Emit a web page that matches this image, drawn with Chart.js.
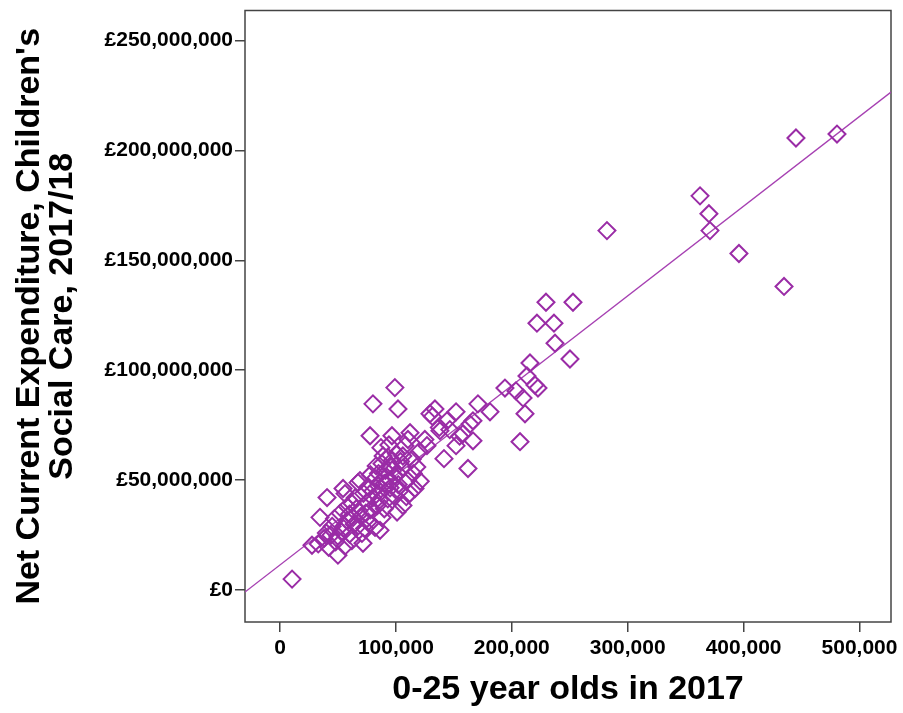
<!DOCTYPE html>
<html>
<head>
<meta charset="utf-8">
<script src="https://cdn.jsdelivr.net/npm/chart.js@4.4.1/dist/chart.umd.min.js"></script>
<style>
  body { margin: 0; background: #fff; }
  #wrap { width: 903px; height: 713px; }
</style>
</head>
<body>
<div id="wrap"><canvas id="chart" width="903" height="713"></canvas></div>
<script>
// 0-25 year olds (thousands) and children's social care spend (£ millions), one per authority
const populationK = [
  10.4, 480.6, 445.2, 362.4, 370.1, 371.0, 282.1, 396.0, 434.9,
  229.5, 252.8, 221.7, 236.4, 237.3, 250.2, 215.7, 213.1, 220.0, 222.6, 194.1, 203.6, 209.7, 211.4, 207.1,
  170.8, 181.2, 166.5, 163.9, 151.9, 144.1, 157.9, 166.5, 151.9, 141.5, 162.2, 138.0, 129.4, 133.7, 131.5, 137.5, 146.5, 155.0, 125.0, 120.0,
  99.1, 80.2, 101.8, 77.7, 96.6, 112.2, 110.4, 87.1, 107.8, 126.8,
  100.5, 93.0, 104.0, 88.0, 96.0, 91.0, 85.0, 99.0, 106.0, 114.0,
  118.0, 101.8, 82.0, 69.0, 67.3, 76.0, 90.0, 95.0, 110.0, 116.5,
  121.0, 87.0, 80.0, 72.0, 93.0, 106.1, 109.0, 98.0, 84.0, 78.0,
  90.0, 101.0, 75.0, 62.0, 66.0, 56.1, 54.4, 40.6, 60.0, 70.0,
  58.0, 52.0, 47.0, 64.0, 82.0, 86.3, 73.0, 55.0, 45.0, 34.5,
  40.0, 50.0, 60.0, 70.7, 71.6, 62.0, 48.0, 38.0, 33.0, 27.6,
  42.0, 50.0, 56.0, 53.0, 44.0, 67.0, 88.0, 95.0, 83.0, 89.0,
  94.0, 85.0, 78.0, 102.0, 112.0, 106.0, 74.0, 65.0,
  92.0, 97.0, 86.0, 76.0, 58.0, 63.0, 68.0, 80.0, 103.0, 115.0
];
const spendingM = [
  5.0, 207.4, 205.6, 179.3, 171.2, 163.5, 163.5, 153.1, 138.1,
  130.9, 130.9, 121.4, 121.4, 112.3, 105.1, 103.3, 97.4, 93.3, 91.9, 91.9, 90.6, 87.4, 80.2, 67.5,
  84.7, 81.1, 77.0, 75.5, 81.1, 77.0, 71.1, 67.9, 65.7, 59.8, 55.3, 72.5, 80.2, 82.4, 79.0, 74.0, 73.0, 70.0, 68.5, 63.0,
  92.1, 84.7, 82.4, 70.2, 70.2, 71.6, 68.5, 64.8, 65.7, 65.7,
  62.0, 60.5, 58.5, 57.5, 56.0, 54.5, 53.0, 52.0, 55.5, 59.5,
  56.0, 53.0, 50.7, 49.8, 48.9, 47.0, 48.5, 46.5, 50.0, 46.2,
  49.5, 44.5, 42.0, 44.0, 41.5, 38.5, 42.5, 43.0, 38.5, 36.5,
  37.0, 35.5, 40.0, 39.5, 37.0, 43.9, 46.2, 42.1, 34.5, 33.5,
  31.5, 35.0, 32.5, 30.0, 28.5, 27.2, 28.0, 28.0, 29.0, 33.1,
  26.0, 24.5, 25.5, 25.8, 21.3, 22.5, 22.0, 23.5, 21.0, 20.4,
  19.5, 15.9, 20.0, 26.5, 25.0, 29.0, 33.0, 50.0, 56.5, 61.0,
  66.0, 47.5, 52.5, 48.0, 44.0, 61.0, 35.0, 42.0,
  51.5, 59.0, 41.0, 31.0, 38.0, 33.0, 36.0, 45.0, 45.0, 53.0
];

// fit line ends, read at the plot edges
const fitPopK = [-30.2, 527.2];
const fitSpendM = [-0.9, 226.5];

const xTicks = [0, 100000, 200000, 300000, 400000, 500000];
const yTicks = [0, 50000000, 100000000, 150000000, 200000000, 250000000];

const purple = '#9a2ca6';
const axisColor = '#444';

const points = populationK.map((p, i) => ({ x: p * 1000, y: spendingM[i] * 1000000 }));
const fitLine = fitPopK.map((p, i) => ({ x: p * 1000, y: fitSpendM[i] * 1000000 }));

const frame = {
  id: 'frame',
  beforeDatasetsDraw(chart) {
    const a = chart.chartArea;
    const ctx = chart.ctx;
    ctx.save();
    ctx.strokeStyle = axisColor;
    ctx.lineWidth = 1.5;
    ctx.strokeRect(a.left, a.top, a.right - a.left, a.bottom - a.top);
    ctx.restore();
  }
};

const ctx = document.getElementById('chart').getContext('2d');
new Chart(ctx, {
  type: 'scatter',
  data: {
    datasets: [{
      label: 'Authorities',
      data: points,
      pointStyle: 'rectRot',
      pointRadius: 8.5,
      pointBorderWidth: 2,
      borderColor: purple,
      backgroundColor: 'rgba(0,0,0,0)',
      order: 1
    }, {
      type: 'line',
      label: 'Fit',
      data: fitLine,
      borderColor: '#a640b2',
      borderWidth: 1.3,
      pointRadius: 0,
      fill: false,
      order: 2
    }]
  },
  options: {
    responsive: false,
    animation: false,
    layout: { padding: { top: 8, right: 12, left: 0, bottom: 0 } },
    plugins: {
      legend: { display: false },
      tooltip: { enabled: false }
    },
    scales: {
      x: {
        type: 'linear',
        min: -30200,
        max: 527200,
        afterBuildTicks: s => { s.ticks = xTicks.map(v => ({ value: v })); },
        afterFit: s => { s.height = 91; s.paddingLeft = 0; s.paddingRight = 0; },
        border: { display: false },
        grid: { drawOnChartArea: false, drawTicks: true, tickLength: 10, color: axisColor, lineWidth: 1.5 },
        ticks: {
          color: '#000',
          padding: 4,
          maxRotation: 0,
          font: { family: 'Liberation Sans, Arial, sans-serif', size: 21, weight: 'bold' },
          callback: v => v.toLocaleString('en-GB')
        },
        title: {
          display: true,
          text: '0-25 year olds in 2017',
          color: '#000',
          padding: { top: 0, bottom: 6 },
          font: { family: 'Liberation Sans, Arial, sans-serif', size: 34, weight: 'bold', lineHeight: 1 }
        }
      },
      y: {
        type: 'linear',
        min: -14500000,
        max: 263600000,
        afterBuildTicks: s => { s.ticks = yTicks.map(v => ({ value: v })); },
        afterFit: s => { s.width = 245; s.paddingTop = 0; s.paddingBottom = 0; },
        border: { display: false },
        grid: { drawOnChartArea: false, drawTicks: true, tickLength: 10, color: axisColor, lineWidth: 1.5 },
        ticks: {
          color: '#000',
          padding: 2,
          font: { family: 'Liberation Sans, Arial, sans-serif', size: 21, weight: 'bold' },
          callback: v => '£' + v.toLocaleString('en-GB')
        },
        title: {
          display: true,
          text: ["Net Current Expenditure, Children's", 'Social Care, 2017/18'],
          color: '#000',
          padding: { top: 13, bottom: 0 },
          font: { family: 'Liberation Sans, Arial, sans-serif', size: 34, weight: 'bold', lineHeight: 0.97 }
        }
      }
    }
  },
  plugins: [frame]
});
</script>
</body>
</html>
